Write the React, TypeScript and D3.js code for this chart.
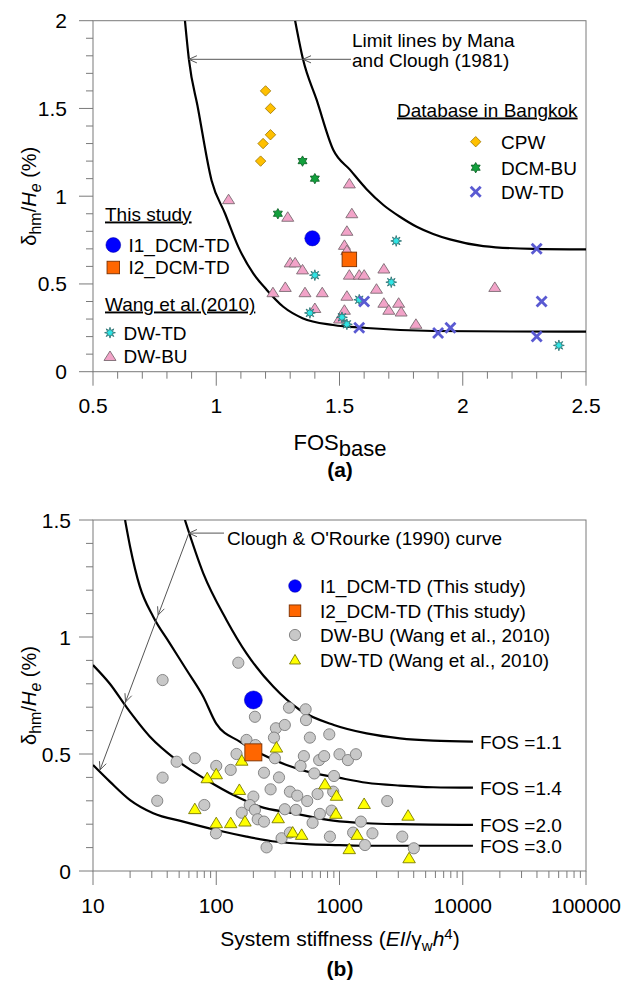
import React from "react";
import * as d3 from "d3";

const FONT = "'Liberation Sans', Arial, Helvetica, sans-serif";

// ---------- Panel (a): FOS_base vs deflection ratio ----------
const cpw: [number, number][] = [[1.20, 1.60], [1.22, 1.50], [1.22, 1.35], [1.19, 1.30], [1.18, 1.20]];
const dcmBu: [number, number][] = [[1.35, 1.20], [1.40, 1.10], [1.25, 0.90]];
const dwTdBangkok: [number, number][] = [[2.30, 0.70], [2.32, 0.40], [2.30, 0.20], [1.90, 0.22], [1.95, 0.25], [1.58, 0.25], [1.60, 0.40]];
const wangDwTdA: [number, number][] = [[1.73, 0.745], [1.40, 0.55], [1.71, 0.51], [1.58, 0.41], [1.38, 0.335], [1.51, 0.31], [1.53, 0.27], [2.39, 0.15]];
const wangDwBuA: [number, number][] = [
  [1.05, 0.98], [1.29, 0.88], [1.30, 0.62], [1.32, 0.62], [1.35, 0.58], [1.23, 0.45], [1.28, 0.48], [1.36, 0.45],
  [1.54, 1.07], [1.55, 0.90], [1.53, 0.80], [1.52, 0.72], [1.53, 0.69], [1.54, 0.55], [1.58, 0.55], [1.60, 0.55],
  [1.68, 0.585], [1.65, 0.47], [1.43, 0.45], [1.53, 0.43], [1.40, 0.36], [1.68, 0.39], [1.74, 0.39], [1.70, 0.35],
  [1.75, 0.34], [1.52, 0.35], [1.50, 0.30], [1.81, 0.27], [2.13, 0.48],
];
const i1A: [number, number] = [1.39, 0.76];
const i2A: [number, number] = [1.54, 0.64];

// Mana & Clough (1981) limit lines
const limitLower: [number, number][] = [
  [0.873, 2.0], [0.889, 1.78], [0.926, 1.5], [0.981, 1.09], [1.036, 0.90], [1.09, 0.71], [1.15, 0.56],
  [1.205, 0.466], [1.272, 0.37], [1.35, 0.305], [1.474, 0.266], [1.61, 0.249], [1.88, 0.232], [2.2, 0.229], [2.5, 0.228],
];
const limitUpper: [number, number][] = [
  [1.32, 2.0], [1.352, 1.78], [1.407, 1.55], [1.475, 1.263], [1.543, 1.15], [1.61, 1.04], [1.678, 0.95],
  [1.745, 0.883], [1.813, 0.826], [1.88, 0.785], [1.948, 0.754], [2.083, 0.716], [2.286, 0.70], [2.5, 0.697],
];
const limitArrowY = 1.78;

const xTicksA = [0.5, 1, 1.5, 2, 2.5];
const yTicksA = [0, 0.5, 1, 1.5, 2];

// ---------- Panel (b): system stiffness vs deflection ratio ----------
const wangDwBuB: [number, number][] = [
  [151, 0.89], [36.7, 0.816], [206, 0.659], [389, 0.698], [531, 0.691], [535, 0.645], [305, 0.61], [360, 0.624],
  [294, 0.57], [575, 0.57], [826, 0.584], [176, 0.56], [208, 0.538], [146, 0.50], [299, 0.482], [514, 0.491],
  [483, 0.449], [684, 0.474], [751, 0.491], [1000, 0.499], [1170, 0.474], [1360, 0.499], [67, 0.482], [47.7, 0.467],
  [100, 0.449], [131, 0.432], [244, 0.42], [323, 0.40], [624, 0.417], [902, 0.406], [36.7, 0.399], [33.2, 0.30],
  [276, 0.349], [396, 0.339], [454, 0.322], [664, 0.329], [889, 0.339], [547, 0.299], [200, 0.318], [187, 0.282],
  [206, 0.261], [161, 0.249], [217, 0.221], [244, 0.211], [360, 0.264], [443, 0.261], [693, 0.244], [863, 0.258],
  [1490, 0.211], [2440, 0.299], [80, 0.282], [99.5, 0.161], [339, 0.14], [396, 0.164], [836, 0.147], [1290, 0.164],
  [1610, 0.111], [1850, 0.161], [256, 0.101], [3230, 0.147], [4010, 0.097], [605, 0.206],
];
const wangDwTdB: [number, number][] = [
  [308, 0.527], [161, 0.471], [100, 0.413], [84.5, 0.396], [154, 0.346], [762, 0.37], [946, 0.321], [1585, 0.286],
  [3600, 0.236], [67, 0.264], [100, 0.204], [131, 0.204], [171, 0.211], [318, 0.225], [935, 0.244], [417, 0.164],
  [493, 0.154], [1390, 0.154], [1200, 0.093], [3670, 0.054],
];
const i1B: [number, number] = [200, 0.731];
const i2B: [number, number] = [200, 0.507];

// Clough & O'Rourke (1990) design curves
const fosLabels = ["FOS =1.1", "FOS =1.4", "FOS =2.0", "FOS =3.0"];
const fosCurves: [number, number][][] = [
  [[55.7, 1.5], [78.5, 1.272], [121, 1.073], [176, 0.93], [290, 0.788], [477, 0.688], [900, 0.624], [1660, 0.588], [3090, 0.567], [5750, 0.557], [12100, 0.553]],
  [[18.2, 1.5], [20, 1.386], [24, 1.215], [30.8, 1.087], [42, 0.973], [57.5, 0.859], [78.5, 0.745], [100, 0.63], [155, 0.553], [226, 0.503], [372, 0.453], [612, 0.418], [889, 0.403], [1660, 0.377], [3090, 0.365], [5750, 0.358], [12100, 0.356]],
  [[10, 0.88], [13.7, 0.80], [18.7, 0.70], [29, 0.574], [47.7, 0.474], [83.6, 0.389], [146, 0.318], [226, 0.275], [421, 0.247], [889, 0.215], [1660, 0.204], [3090, 0.2], [12100, 0.197]],
  [[10, 0.453], [13.7, 0.382], [20, 0.303], [30.8, 0.247], [54, 0.211], [100, 0.175], [176, 0.147], [309, 0.125], [540, 0.115], [1000, 0.111], [1660, 0.108], [12100, 0.108]],
];
const cloughArrowStart: [number, number] = [60, 1.444];
const cloughArrowEnd: [number, number] = [11.4, 0.432];
const cloughArrowHeads = [0.346, 0.713, 1];

const xTicksB = [10, 100, 1000, 10000, 100000];
const yTicksB = [0, 0.5, 1, 1.5];

// ---------- geometry ----------
const X0 = 93, X1 = 586;
const xA = d3.scaleLinear().domain([0.5, 2.5]).range([X0, X1]);
const yA = d3.scaleLinear().domain([0, 2]).range([371.7, 20.7]);
const xB = d3.scaleLog().domain([10, 100000]).range([X0, X1]);
const yB = d3.scaleLinear().domain([0, 1.5]).range([871, 520]);

const AXIS = "#7a7a7a";

function starPath(cx: number, cy: number, n: number, ro: number, ri: number) {
  const pts: string[] = [];
  for (let i = 0; i < 2 * n; i++) {
    const a = -Math.PI / 2 + (i * Math.PI) / n;
    const r = i % 2 ? ri : ro;
    pts.push(`${(cx + r * Math.cos(a)).toFixed(2)},${(cy + r * Math.sin(a)).toFixed(2)}`);
  }
  return "M" + pts.join("L") + "Z";
}
const triPath = (cx: number, cy: number, w: number, h: number) =>
  `M${cx},${cy - h * 0.58}L${cx + w / 2},${cy + h * 0.42}L${cx - w / 2},${cy + h * 0.42}Z`;
const diamondPath = (cx: number, cy: number, r: number) =>
  `M${cx},${cy - r}L${cx + r},${cy}L${cx},${cy + r}L${cx - r},${cy}Z`;

const Diamond = ({ x, y }: { x: number; y: number }) => (
  <path d={diamondPath(x, y, 5.2)} fill="#FFC000" stroke="#9a7400" strokeWidth={0.8} />
);
const Hexagram = ({ x, y }: { x: number; y: number }) => (
  <path d={starPath(x, y, 6, 5.2, 3.0)} fill="#12a03c" stroke="#0a5a22" strokeWidth={0.8} />
);
const Cross = ({ x, y }: { x: number; y: number }) => (
  <g stroke="#5a5ad2" strokeWidth={2.8} strokeLinecap="butt">
    <line x1={x - 5} y1={y - 5} x2={x + 5} y2={y + 5} />
    <line x1={x - 5} y1={y + 5} x2={x + 5} y2={y - 5} />
  </g>
);
const CyanStar = ({ x, y }: { x: number; y: number }) => (
  <path d={starPath(x, y, 8, 5.4, 2.4)} fill="#2fe6e6" stroke="#2a6868" strokeWidth={0.8} />
);
const PinkTri = ({ x, y }: { x: number; y: number }) => (
  <path d={triPath(x, y, 12, 9.5)} fill="#F2A3C8" stroke="#7a6a72" strokeWidth={0.9} />
);
const GrayDot = ({ x, y }: { x: number; y: number }) => (
  <circle cx={x} cy={y} r={5.6} fill="#c8c8c8" stroke="#7c7c7c" strokeWidth={0.9} />
);
const YellowTri = ({ x, y }: { x: number; y: number }) => (
  <path d={triPath(x, y, 12.5, 10.5)} fill="#FFFF00" stroke="#7a7a00" strokeWidth={0.9} />
);
const BlueDot = ({ x, y, r }: { x: number; y: number; r: number }) => (
  <circle cx={x} cy={y} r={r} fill="#0000FF" stroke="#0000a0" strokeWidth={0.5} />
);
const OrangeSq = ({ x, y, s }: { x: number; y: number; s: number }) => (
  <rect x={x - s / 2} y={y - s / 2} width={s} height={s} fill="#FF6600" stroke="#7a3000" strokeWidth={0.9} />
);

function Chevron({ x, y, angle }: { x: number; y: number; angle: number }) {
  // open arrowhead with tip at (x, y) pointing in direction `angle`
  const L = 8, W = 3.6;
  const c = Math.cos(angle), s = Math.sin(angle);
  const bx = x - L * c, by = y - L * s;
  return (
    <path
      d={`M${bx - W * s},${by + W * c}L${x},${y}L${bx + W * s},${by - W * c}`}
      fill="none"
      stroke="#555"
      strokeWidth={1}
    />
  );
}

function Frame({ top, bottom }: { top: number; bottom: number }) {
  return <rect x={X0} y={top} width={X1 - X0} height={bottom - top} fill="none" stroke={AXIS} strokeWidth={1} />;
}

export default function App() {
  const lineA = d3.line<[number, number]>().x((d) => xA(d[0])).y((d) => yA(d[1])).curve(d3.curveMonotoneX);
  const lineB = d3.line<[number, number]>().x((d) => xB(d[0])).y((d) => yB(d[1])).curve(d3.curveMonotoneX);

  const minorA = d3.range(5, 26).map((i) => i / 10);
  const minorYA = d3.range(0, 21).map((i) => i / 10);
  const minorB: number[] = [];
  for (let e = 1; e < 5; e++) for (let k = 1; k <= 9; k++) minorB.push(k * Math.pow(10, e));
  minorB.push(100000);
  const minorYB = d3.range(0, 16).map((i) => i / 10);

  const aBot = yA(0), aTop = yA(2);
  const bBot = yB(0), bTop = yB(1.5);

  // Clough arrow geometry
  const ax0 = xB(cloughArrowStart[0]), ay0 = yB(cloughArrowStart[1]);
  const ax1 = xB(cloughArrowEnd[0]), ay1 = yB(cloughArrowEnd[1]);
  const diagAngle = Math.atan2(ay1 - ay0, ax1 - ax0);

  return (
    <svg
      width={627}
      height={985}
      style={{ position: "absolute", left: 0, top: 0, background: "#fff" }}
      fontFamily={FONT}
    >
      <defs>
        <clipPath id="clipA">
          <rect x={X0} y={aTop} width={X1 - X0} height={aBot - aTop} />
        </clipPath>
        <clipPath id="clipB">
          <rect x={X0} y={bTop} width={X1 - X0} height={bBot - bTop} />
        </clipPath>
      </defs>

      {/* ===== Panel (a) ===== */}
      <Frame top={aTop} bottom={aBot} />
      {minorA.map((v, i) => {
        const major = xTicksA.some((t) => Math.abs(t - v) < 1e-9);
        return <line key={"xa" + i} x1={xA(v)} x2={xA(v)} y1={aBot} y2={aBot + (major ? 14 : 7)} stroke={AXIS} />;
      })}
      {minorYA.map((v, i) => {
        const major = yTicksA.some((t) => Math.abs(t - v) < 1e-9);
        return <line key={"ya" + i} x1={X0 - (major ? 14 : 7)} x2={X0} y1={yA(v)} y2={yA(v)} stroke={AXIS} />;
      })}
      {xTicksA.map((v) => (
        <text key={"xl" + v} x={xA(v)} y={413} fontSize={21} textAnchor="middle">{String(v)}</text>
      ))}
      {yTicksA.map((v) => (
        <text key={"yl" + v} x={67} y={yA(v) + 7.5} fontSize={21} textAnchor="end">{String(v)}</text>
      ))}
      <text x={340} y={450} fontSize={22} textAnchor="middle">
        FOS<tspan dy={6}>base</tspan>
      </text>
      <text x={340} y={477} fontSize={21} fontWeight="bold" textAnchor="middle">(a)</text>
      <text transform={`translate(36,${(aTop + aBot) / 2}) rotate(-90)`} fontSize={20} textAnchor="middle">
        δ<tspan dy={5} fontSize={16}>hm</tspan>
        <tspan dy={-5}>/</tspan>
        <tspan fontStyle="italic">H</tspan>
        <tspan dy={5} fontSize={16} fontStyle="italic">e</tspan>
        <tspan dy={-5}> (%)</tspan>
      </text>

      <g clipPath="url(#clipA)">
        <path d={lineA(limitLower) || ""} fill="none" stroke="#000" strokeWidth={2.2} />
        <path d={lineA(limitUpper) || ""} fill="none" stroke="#000" strokeWidth={2.2} />
      </g>

      {/* limit line call-out */}
      <line x1={xA(limitLower[1][0])} x2={351} y1={yA(limitArrowY)} y2={yA(limitArrowY)} stroke="#555" strokeWidth={1} />
      <Chevron x={xA(limitLower[1][0])} y={yA(limitArrowY)} angle={Math.PI} />
      <Chevron x={xA(limitUpper[1][0])} y={yA(limitArrowY)} angle={Math.PI} />
      <text x={352} y={46.5} fontSize={19}>Limit lines by Mana</text>
      <text x={352} y={66.5} fontSize={19}>and Clough (1981)</text>

      {wangDwBuA.map((d, i) => <PinkTri key={"pt" + i} x={xA(d[0])} y={yA(d[1])} />)}
      {wangDwTdA.map((d, i) => <CyanStar key={"cs" + i} x={xA(d[0])} y={yA(d[1])} />)}
      {dwTdBangkok.map((d, i) => <Cross key={"cx" + i} x={xA(d[0])} y={yA(d[1])} />)}
      {cpw.map((d, i) => <Diamond key={"dm" + i} x={xA(d[0])} y={yA(d[1])} />)}
      {dcmBu.map((d, i) => <Hexagram key={"hx" + i} x={xA(d[0])} y={yA(d[1])} />)}
      <BlueDot x={xA(i1A[0])} y={yA(i1A[1])} r={7.6} />
      <OrangeSq x={xA(i2A[0])} y={yA(i2A[1])} s={14.5} />

      {/* legends (a) */}
      <text x={397} y={116.5} fontSize={19} textDecoration="underline">Database in Bangkok</text>
      <Diamond x={475.7} y={141.7} />
      <text x={501} y={148.5} fontSize={19}>CPW</text>
      <Hexagram x={475.7} y={167.7} />
      <text x={501} y={174.5} fontSize={19}>DCM-BU</text>
      <Cross x={475.7} y={191.7} />
      <text x={501} y={198.5} fontSize={19}>DW-TD</text>

      <text x={105} y={220.5} fontSize={19} textDecoration="underline">This study</text>
      <BlueDot x={113.3} y={245} r={7.4} />
      <text x={128.5} y={251.8} fontSize={19}>I1_DCM-TD</text>
      <OrangeSq x={113.3} y={267.5} s={12.5} />
      <text x={128.5} y={274.3} fontSize={19}>I2_DCM-TD</text>
      <text x={105} y={310.5} fontSize={19} textDecoration="underline">Wang et al.(2010)</text>
      <CyanStar x={110} y={332.7} />
      <text x={123.5} y={339.5} fontSize={19}>DW-TD</text>
      <PinkTri x={110} y={356.5} />
      <text x={123.5} y={363} fontSize={19}>DW-BU</text>

      {/* ===== Panel (b) ===== */}
      <Frame top={bTop} bottom={bBot} />
      {minorB.map((v, i) => {
        const major = xTicksB.some((t) => Math.abs(t - v) < 1e-6);
        return <line key={"xb" + i} x1={xB(v)} x2={xB(v)} y1={bBot} y2={bBot + (major ? 14 : 7)} stroke={AXIS} />;
      })}
      {minorYB.map((v, i) => {
        const major = yTicksB.some((t) => Math.abs(t - v) < 1e-9);
        return <line key={"yb" + i} x1={X0 - (major ? 14 : 7)} x2={X0} y1={yB(v)} y2={yB(v)} stroke={AXIS} />;
      })}
      {xTicksB.map((v) => (
        <text key={"xbl" + v} x={xB(v)} y={913} fontSize={21} textAnchor="middle">{String(v)}</text>
      ))}
      {yTicksB.map((v) => (
        <text key={"ybl" + v} x={71} y={yB(v) + 7.5} fontSize={21} textAnchor="end">{String(v)}</text>
      ))}
      <text x={340} y={946} fontSize={21} textAnchor="middle">
        System stiffness (<tspan fontStyle="italic">EI</tspan>/γ<tspan dy={5} fontSize={15}>w</tspan>
        <tspan dy={-5} fontStyle="italic">h</tspan>
        <tspan dy={-7} fontSize={15}>4</tspan>
        <tspan dy={7}>)</tspan>
      </text>
      <text x={340} y={976} fontSize={21} fontWeight="bold" textAnchor="middle">(b)</text>
      <text transform={`translate(36,${(bTop + bBot) / 2}) rotate(-90)`} fontSize={20} textAnchor="middle">
        δ<tspan dy={5} fontSize={16}>hm</tspan>
        <tspan dy={-5}>/</tspan>
        <tspan fontStyle="italic">H</tspan>
        <tspan dy={5} fontSize={16} fontStyle="italic">e</tspan>
        <tspan dy={-5}> (%)</tspan>
      </text>

      <g clipPath="url(#clipB)">
        {fosCurves.map((c, i) => (
          <path key={"fc" + i} d={lineB(c) || ""} fill="none" stroke="#000" strokeWidth={2.2} />
        ))}
      </g>
      {fosCurves.map((c, i) => {
        const last = c[c.length - 1];
        return (
          <text key={"fl" + i} x={xB(last[0]) + 7} y={yB(last[1]) + 7} fontSize={19}>{fosLabels[i]}</text>
        );
      })}

      {/* Clough & O'Rourke call-out */}
      <line x1={ax0} x2={224} y1={ay0} y2={ay0} stroke="#555" strokeWidth={1} />
      <Chevron x={ax0} y={ay0} angle={Math.PI} />
      <line x1={ax0} y1={ay0} x2={ax1} y2={ay1} stroke="#555" strokeWidth={1} />
      {cloughArrowHeads.map((t, i) => (
        <Chevron key={"ch" + i} x={ax0 + (ax1 - ax0) * t} y={ay0 + (ay1 - ay0) * t} angle={diagAngle} />
      ))}
      <text x={227} y={545} fontSize={19}>Clough &amp; O'Rourke (1990) curve</text>

      {wangDwBuB.map((d, i) => <GrayDot key={"gd" + i} x={xB(d[0])} y={yB(d[1])} />)}
      {wangDwTdB.map((d, i) => <YellowTri key={"yt" + i} x={xB(d[0])} y={yB(d[1])} />)}
      <BlueDot x={xB(i1B[0])} y={yB(i1B[1])} r={9} />
      <OrangeSq x={xB(i2B[0])} y={yB(i2B[1])} s={17} />

      {/* legend (b) */}
      <BlueDot x={295} y={586} r={6.3} />
      <text x={320} y={592.8} fontSize={19}>I1_DCM-TD (This study)</text>
      <OrangeSq x={295} y={610.7} s={11.5} />
      <text x={320} y={617.5} fontSize={19}>I2_DCM-TD (This study)</text>
      <GrayDot x={295} y={635} />
      <text x={320} y={641.8} fontSize={19}>DW-BU (Wang et al., 2010)</text>
      <path d={triPath(295, 660, 11, 9.5)} fill="#FFFF00" stroke="#7a7a00" strokeWidth={0.9} />
      <text x={320} y={666.8} fontSize={19}>DW-TD (Wang et al., 2010)</text>
    </svg>
  );
}
